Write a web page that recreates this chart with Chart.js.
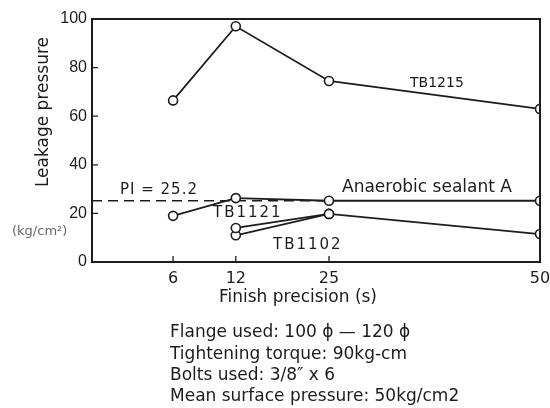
<!DOCTYPE html>
<html>
<head>
<meta charset="utf-8">
<script src="https://cdn.jsdelivr.net/npm/chart.js@4/dist/chart.umd.min.js"></script>
<style>
  html, body { margin: 0; padding: 0; background: #fff; }
  #wrap { width: 550px; height: 408px; position: relative; }
</style>
</head>
<body>
<div id="wrap"><canvas id="chart" width="550" height="408"></canvas></div>
<script>
// leakage pressure vs finish precision
const finishPrecision = [6, 12, 25, 50];
const tb1215 = [66.5, 97, 74.5, 63];
const sealantA = [19, 26.3, 25.2, 25.2];
const tb1121 = [null, 14, 19.8, null];
const tb1102 = [null, 11, 19.8, 11.5];
const plLevel = 25.2;
const plRange = [0, 25];
const xTicks = [6, 12, 25, 50];
const yTicks = [0, 20, 40, 60, 80, 100];
const notes = [
  'Flange used: 100 ϕ — 120 ϕ',
  'Tightening torque: 90kg-cm',
  'Bolts used: 3/8″ x 6',
  'Mean surface pressure: 50kg/cm2',
];

const INK = '#1c1c1c';
const SANS = "'DejaVu Sans', sans-serif";
const NARROW = "'Liberation Sans Narrow', 'Liberation Sans', sans-serif";

// the x axis of the original is not evenly spaced
const X_BREAKS = [0, 6, 12, 25, 50];
const X_FRACS = [0, 0.181, 0.321, 0.529, 1];

function warp(v) {
  for (let i = 1; i < X_BREAKS.length; i++) {
    if (v <= X_BREAKS[i] || i === X_BREAKS.length - 1) {
      const t = (v - X_BREAKS[i - 1]) / (X_BREAKS[i] - X_BREAKS[i - 1]);
      return X_FRACS[i - 1] + t * (X_FRACS[i] - X_FRACS[i - 1]);
    }
  }
  return 0;
}
function unwarp(d) {
  for (let i = 1; i < X_FRACS.length; i++) {
    if (d <= X_FRACS[i] || i === X_FRACS.length - 1) {
      const t = (d - X_FRACS[i - 1]) / (X_FRACS[i] - X_FRACS[i - 1]);
      return X_BREAKS[i - 1] + t * (X_BREAKS[i] - X_BREAKS[i - 1]);
    }
  }
  return 0;
}

class PrecisionScale extends Chart.LinearScale {
  getPixelForValue(value) {
    return this.getPixelForDecimal(warp(value));
  }
  getValueForPixel(pixel) {
    return unwarp(this.getDecimalForPixel(pixel));
  }
}
PrecisionScale.id = 'precision';
PrecisionScale.defaults = Chart.LinearScale.defaults;
Chart.register(PrecisionScale);

const pts = (arr) => finishPrecision.map((x, i) => ({ x, y: arr[i] }));

const seriesStyle = {
  borderColor: INK,
  borderWidth: 1.8,
  pointRadius: 4.5,
  pointBorderWidth: 1.6,
  pointBackgroundColor: '#fff',
  pointBorderColor: INK,
  tension: 0,
  spanGaps: false,
  // points on the right frame are cut in half, like the original
  clip: { left: 6, top: 6, right: 0, bottom: 6 },
};

function text(ctx, str, x, y, opts = {}) {
  ctx.save();
  ctx.font = opts.font || `17px ${SANS}`;
  ctx.fillStyle = opts.color || INK;
  ctx.textAlign = opts.align || 'left';
  ctx.textBaseline = 'middle';
  if (opts.spacing) ctx.letterSpacing = opts.spacing + 'px';
  if (opts.rotate) {
    ctx.translate(x, y);
    ctx.rotate(opts.rotate);
    ctx.fillText(str, 0, 0);
  } else {
    ctx.fillText(str, x, y);
  }
  ctx.restore();
}

const frame = {
  id: 'frame',
  afterDatasetsDraw(chart) {
    const { ctx, chartArea: a, scales } = chart;
    ctx.save();
    ctx.strokeStyle = INK;
    ctx.lineWidth = 2;
    ctx.strokeRect(a.left, a.top, a.right - a.left, a.bottom - a.top);
    // inward tick marks
    ctx.lineWidth = 1.3;
    ctx.beginPath();
    yTicks.slice(1, -1).forEach((v) => {
      const y = scales.y.getPixelForValue(v);
      ctx.moveTo(a.left, y);
      ctx.lineTo(a.left + 6, y);
    });
    xTicks.slice(0, -1).forEach((v) => {
      const x = scales.x.getPixelForValue(v);
      ctx.moveTo(x, a.bottom);
      ctx.lineTo(x, a.bottom - 6);
    });
    ctx.stroke();
    ctx.restore();
  },
  afterDraw(chart) {
    const { ctx } = chart;
    text(ctx, 'Leakage pressure', 44, 112, { rotate: -Math.PI / 2, align: 'center' });
    text(ctx, '(kg/cm²)', 12, 232, { font: `13px ${SANS}`, color: '#666' });
    text(ctx, 'PI = 25.2', 120, 190, { font: `15px ${SANS}`, spacing: 1 });
    text(ctx, 'Anaerobic sealant A', 342, 188);
    text(ctx, 'TB1215', 410, 83, { font: `14px ${SANS}` });
    text(ctx, 'TB1121', 213, 213, { font: `15px ${SANS}`, spacing: 2 });
    text(ctx, 'TB1102', 273, 245, { font: `15px ${SANS}`, spacing: 2 });
    text(ctx, 'Finish precision (s)', 298, 298, { align: 'center' });
    notes.forEach((n, i) => text(ctx, n, 170, 333 + i * 21.3));
  },
};

new Chart(document.getElementById('chart'), {
  type: 'line',
  data: {
    datasets: [
      { label: 'TB1215', data: pts(tb1215), ...seriesStyle },
      { label: 'Anaerobic sealant A', data: pts(sealantA), ...seriesStyle },
      { label: 'TB1121', data: pts(tb1121), ...seriesStyle },
      { label: 'TB1102', data: pts(tb1102), ...seriesStyle },
      {
        label: 'PI',
        data: plRange.map((x) => ({ x, y: plLevel })),
        borderColor: INK,
        borderWidth: 1.3,
        borderDash: [10, 6],
        pointRadius: 0,
      },
    ],
  },
  options: {
    responsive: false,
    animation: false,
    layout: { padding: { left: 0, top: 19, right: 10, bottom: 0 } },
    plugins: { legend: { display: false }, tooltip: { enabled: false } },
    scales: {
      x: {
        type: 'precision',
        min: 0,
        max: 50,
        afterBuildTicks: (s) => { s.ticks = xTicks.map((v) => ({ value: v })); },
        afterFit: (s) => {
          s.height = 146;
          s.paddingLeft = 0;
          s.paddingRight = 0;
        },
        grid: { display: false, drawTicks: false },
        border: { display: false },
        ticks: {
          color: INK,
          padding: 7,
          maxRotation: 0,
          autoSkip: false,
          font: { family: SANS, size: 16 },
          callback: (v) => String(v),
        },
      },
      y: {
        type: 'linear',
        min: 0,
        max: 100,
        afterBuildTicks: (s) => { s.ticks = yTicks.map((v) => ({ value: v })); },
        afterFit: (s) => {
          s.width = 92;
          s.paddingTop = 0;
          s.paddingBottom = 0;
        },
        grid: { display: false, drawTicks: false },
        border: { display: false },
        ticks: {
          color: INK,
          padding: 5,
          font: { family: NARROW, size: 16 },
          callback: (v) => String(v),
        },
      },
    },
  },
  plugins: [frame],
});
</script>
</body>
</html>
